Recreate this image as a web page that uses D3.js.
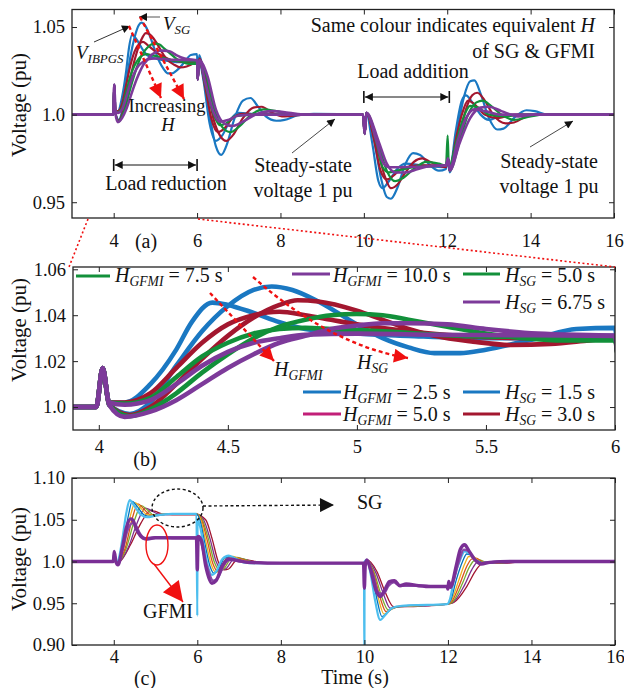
<html>
<head>
  <style>
    body { margin: 0; background: #fff; }
  </style>
</head>
<body>
<script src="https://cdnjs.cloudflare.com/ajax/libs/d3/7.8.5/d3.min.js"></script>
<script>
// ---------- data: voltage (pu) vs time (s) ----------
// panels (a) and (b) share the same 8 traces, (b) is a zoom of (a)
var sgBlue = [[3,1.0],[3.99,1.0],[4.015,1.017],[4.04,1.001],[4.12,0.997],[4.2,1.002],[4.3,1.018],[4.4,1.033],[4.5,1.044],[4.6,1.051],[4.67,1.0525],[4.75,1.051],[4.85,1.046],[5.0,1.036],[5.1,1.030],[5.2,1.026],[5.3,1.0235],[5.4,1.0235],[5.5,1.025],[5.7,1.030],[5.85,1.034],[6.0,1.0345],[6.015,1.02],[6.05,1.034],[6.15,1.025],[6.3,1.0],[6.45,0.982],[6.58,0.977],[6.7,0.982],[6.9,0.998],[7.1,1.008],[7.28,1.0095],[7.45,1.005],[7.65,0.999],[7.9,0.9965],[8.1,0.997],[8.4,0.9995],[8.8,1.0005],[9.98,1.0],[10.02,0.989],[10.06,1.001],[10.25,0.985],[10.4,0.965],[10.55,0.953],[10.65,0.952],[10.8,0.958],[11.0,0.972],[11.18,0.978],[11.35,0.977],[11.55,0.972],[11.8,0.968],[11.97,0.969],[12.02,0.975],[12.06,0.967],[12.2,0.985],[12.4,1.010],[12.55,1.019],[12.65,1.0195],[12.8,1.012],[13.0,0.998],[13.2,0.9915],[13.35,0.992],[13.6,0.998],[13.9,1.0025],[14.1,1.002],[14.4,1.0],[16,1.0]];
var gfBlue = [[3,1.0],[3.99,1.0],[4.015,1.017],[4.04,1.002],[4.1,1.002],[4.2,1.010],[4.3,1.025],[4.36,1.037],[4.44,1.0455],[4.5,1.0445],[4.6,1.041],[4.7,1.037],[4.8,1.034],[4.9,1.033],[5.0,1.032],[5.2,1.031],[5.5,1.030],[5.8,1.030],[6.0,1.031],[6.015,1.02],[6.05,1.031],[6.15,1.02],[6.3,0.995],[6.45,0.985],[6.6,0.988],[6.8,0.997],[7.0,1.001],[7.3,1.0005],[8.0,1.0],[9.98,1.0],[10.02,0.989],[10.06,1.001],[10.2,0.984],[10.35,0.962],[10.45,0.958],[10.6,0.962],[10.8,0.969],[11.0,0.972],[11.4,0.971],[11.97,0.970],[12.02,0.975],[12.06,0.968],[12.2,0.99],[12.35,1.008],[12.45,1.011],[12.6,1.007],[12.8,1.0],[13.0,0.997],[13.3,0.9995],[14,1.0],[16,1.0]];
var sgRed = [[3,1.0],[3.99,1.0],[4.015,1.017],[4.04,1.001],[4.12,0.9965],[4.2,1.0],[4.3,1.010],[4.4,1.021],[4.5,1.031],[4.6,1.039],[4.7,1.0445],[4.77,1.0465],[4.85,1.046],[5.0,1.042],[5.1,1.038],[5.2,1.034],[5.3,1.031],[5.45,1.0285],[5.6,1.027],[5.75,1.0275],[5.9,1.029],[6.0,1.030],[6.015,1.02],[6.05,1.032],[6.2,1.022],[6.4,0.997],[6.55,0.988],[6.7,0.985],[6.85,0.988],[7.1,0.998],[7.35,1.004],[7.55,1.0045],[7.8,1.001],[8.1,0.999],[8.6,1.0],[9.98,1.0],[10.02,0.989],[10.06,1.001],[10.3,0.983],[10.5,0.965],[10.65,0.958],[10.8,0.960],[11.0,0.967],[11.2,0.973],[11.4,0.975],[11.6,0.973],[11.97,0.970],[12.02,0.975],[12.06,0.968],[12.25,0.983],[12.45,1.003],[12.6,1.011],[12.72,1.0125],[12.9,1.008],[13.1,1.0],[13.4,0.995],[13.6,0.9955],[13.9,0.999],[14.2,1.0],[16,1.0]];
var gfRed = [[3,1.0],[3.99,1.0],[4.015,1.017],[4.04,1.002],[4.1,1.002],[4.2,1.006],[4.3,1.017],[4.4,1.028],[4.5,1.036],[4.6,1.040],[4.7,1.0415],[4.8,1.040],[4.9,1.038],[5.0,1.036],[5.2,1.033],[5.4,1.031],[5.7,1.030],[6.0,1.030],[6.015,1.02],[6.05,1.031],[6.2,1.015],[6.35,0.997],[6.5,0.990],[6.65,0.992],[6.85,0.998],[7.1,1.0005],[7.5,1.0],[9.98,1.0],[10.02,0.989],[10.06,1.001],[10.25,0.985],[10.4,0.968],[10.55,0.963],[10.7,0.965],[10.9,0.969],[11.3,0.971],[11.97,0.971],[12.02,0.975],[12.06,0.968],[12.2,0.985],[12.35,1.0],[12.5,1.008],[12.65,1.006],[12.9,1.0],[13.2,0.998],[13.6,1.0],[16,1.0]];
var sgGreen = [[3,1.0],[3.99,1.0],[4.015,1.017],[4.04,1.001],[4.12,0.996],[4.2,0.999],[4.3,1.006],[4.4,1.015],[4.5,1.023],[4.6,1.030],[4.7,1.035],[4.8,1.038],[4.9,1.040],[5.0,1.0405],[5.1,1.040],[5.2,1.038],[5.35,1.035],[5.5,1.032],[5.65,1.030],[5.8,1.029],[6.0,1.029],[6.015,1.02],[6.05,1.031],[6.2,1.024],[6.4,1.004],[6.6,0.993],[6.8,0.990],[7.0,0.993],[7.3,1.0],[7.6,1.003],[7.9,1.002],[8.3,1.0],[9.98,1.0],[10.02,0.989],[10.06,1.001],[10.35,0.983],[10.55,0.968],[10.75,0.962],[10.95,0.964],[11.2,0.969],[11.5,0.973],[11.8,0.972],[11.97,0.971],[12.02,0.975],[12.06,0.968],[12.3,0.985],[12.5,1.0],[12.7,1.007],[12.85,1.008],[13.05,1.005],[13.3,1.0],[13.6,0.997],[14.0,0.999],[14.3,1.0],[16,1.0]];
var gfGreen = [[3,1.0],[3.99,1.0],[4.015,1.017],[4.04,1.002],[4.1,1.0015],[4.2,1.004],[4.3,1.013],[4.4,1.022],[4.5,1.028],[4.6,1.032],[4.7,1.034],[4.8,1.0345],[4.9,1.034],[5.1,1.033],[5.4,1.031],[6.0,1.030],[6.015,1.02],[6.05,1.031],[6.2,1.017],[6.4,1.0],[6.55,0.994],[6.7,0.995],[6.9,0.999],[7.3,1.0],[9.98,1.0],[10.02,0.989],[10.06,1.001],[10.3,0.984],[10.45,0.970],[10.6,0.967],[10.8,0.968],[11.2,0.970],[11.97,0.971],[12.01,0.988],[12.04,0.970],[12.2,0.983],[12.4,0.999],[12.55,1.005],[12.75,1.004],[13.0,1.0],[13.4,0.999],[13.8,1.0],[16,1.0]];
var sgPurple = [[3,1.0],[3.99,1.0],[4.015,1.017],[4.04,1.001],[4.1,0.9957],[4.2,0.998],[4.3,1.003],[4.4,1.010],[4.5,1.017],[4.6,1.023],[4.7,1.028],[4.8,1.031],[4.9,1.034],[5.0,1.0355],[5.1,1.0365],[5.2,1.0365],[5.35,1.036],[5.5,1.034],[5.7,1.032],[6.0,1.031],[6.015,1.02],[6.05,1.031],[6.25,1.022],[6.45,1.003],[6.65,0.995],[6.85,0.9935],[7.1,0.996],[7.4,1.0],[7.8,1.002],[8.2,1.001],[8.6,1.0],[9.98,1.0],[10.02,0.989],[10.06,1.001],[10.35,0.985],[10.55,0.972],[10.75,0.967],[11.0,0.967],[11.3,0.969],[11.7,0.971],[11.97,0.971],[12.02,0.975],[12.06,0.968],[12.3,0.984],[12.55,0.998],[12.8,1.004],[13.0,1.0045],[13.3,1.002],[13.7,0.999],[14.1,1.0],[16,1.0]];
var gfPurple = [[3,1.0],[3.99,1.0],[4.015,1.017],[4.04,1.002],[4.1,1.001],[4.2,1.003],[4.3,1.010],[4.4,1.018],[4.5,1.024],[4.6,1.028],[4.7,1.030],[4.8,1.0315],[5.0,1.032],[5.3,1.0315],[6.0,1.031],[6.015,1.02],[6.05,1.031],[6.2,1.018],[6.4,1.001],[6.55,0.996],[6.75,0.997],[7.0,0.9995],[7.5,1.0],[9.98,1.0],[10.02,0.989],[10.06,1.001],[10.3,0.985],[10.45,0.973],[10.6,0.970],[10.8,0.970],[11.97,0.971],[12.02,0.975],[12.06,0.969],[12.25,0.985],[12.45,0.998],[12.65,1.003],[12.9,1.002],[13.3,1.0],[16,1.0]];

// panel (c): SG family for a sweep of H, earliest (light blue) to latest (dark red)
var sgC1 = [[3,1.0],[3.99,1.0],[4.02,1.008],[4.07,0.998],[4.1,1.0],[4.2,1.025],[4.3,1.058],[4.38,1.0735],[4.5,1.066],[4.65,1.056],[4.8,1.053],[5.0,1.055],[5.4,1.057],[5.98,1.057],[6.0,0.935],[6.005,1.05],[6.05,1.045],[6.15,1.02],[6.25,0.995],[6.35,0.984],[6.45,0.988],[6.6,1.003],[6.75,1.007],[6.9,1.004],[7.1,0.999],[7.4,0.998],[9.99,0.998],[10.0,0.88],[10.005,1.0],[10.06,1.002],[10.15,0.985],[10.25,0.955],[10.38,0.930],[10.5,0.936],[10.65,0.944],[10.9,0.947],[11.5,0.948],[11.98,0.949],[12.05,0.955],[12.15,0.98],[12.3,1.003],[12.4,1.012],[12.5,1.01],[12.65,1.002],[12.8,0.998],[13.0,0.999],[13.5,1.0],[16,1.0]];
var sgC2 = [[3,1.0],[3.99,1.0],[4.02,1.008],[4.07,0.998],[4.1,1.0],[4.22,1.02],[4.35,1.055],[4.44,1.072],[4.56,1.066],[4.72,1.056],[4.88,1.054],[5.1,1.056],[5.5,1.057],[5.98,1.057],[6.06,1.05],[6.18,1.022],[6.3,0.995],[6.4,0.986],[6.5,0.99],[6.65,1.004],[6.8,1.006],[6.95,1.003],[7.2,0.999],[7.5,0.998],[10.0,0.998],[10.06,1.002],[10.18,0.985],[10.3,0.955],[10.42,0.934],[10.55,0.939],[10.7,0.945],[11.0,0.947],[11.98,0.949],[12.07,0.954],[12.2,0.978],[12.35,1.0],[12.45,1.009],[12.55,1.008],[12.7,1.001],[12.9,0.998],[13.5,1.0],[16,1.0]];
var sgC3 = [[3,1.0],[3.99,1.0],[4.02,1.008],[4.07,0.998],[4.11,1.0],[4.25,1.018],[4.4,1.055],[4.51,1.0705],[4.63,1.065],[4.8,1.056],[4.95,1.055],[5.2,1.057],[5.98,1.057],[6.08,1.05],[6.2,1.025],[6.33,0.997],[6.45,0.987],[6.55,0.991],[6.7,1.004],[6.85,1.006],[7.0,1.003],[7.3,0.999],[7.6,0.998],[10.0,0.998],[10.06,1.002],[10.2,0.985],[10.33,0.957],[10.47,0.937],[10.6,0.941],[10.75,0.946],[11.1,0.947],[11.98,0.949],[12.08,0.953],[12.25,0.976],[12.4,0.997],[12.5,1.006],[12.6,1.006],[12.75,1.0],[13.0,0.998],[13.5,1.0],[16,1.0]];
var sgC4 = [[3,1.0],[3.99,1.0],[4.02,1.008],[4.07,0.998],[4.12,1.0],[4.28,1.017],[4.45,1.053],[4.58,1.069],[4.7,1.064],[4.87,1.056],[5.0,1.055],[5.3,1.057],[5.98,1.057],[6.1,1.05],[6.23,1.027],[6.37,0.998],[6.5,0.988],[6.6,0.991],[6.75,1.003],[6.9,1.005],[7.05,1.003],[7.35,0.999],[7.7,0.998],[10.0,0.998],[10.06,1.002],[10.22,0.986],[10.37,0.958],[10.52,0.94],[10.65,0.943],[10.8,0.946],[11.2,0.947],[11.98,0.949],[12.09,0.952],[12.3,0.975],[12.45,0.994],[12.57,1.003],[12.67,1.004],[12.85,0.999],[13.1,0.998],[13.6,1.0],[16,1.0]];
var sgC5 = [[3,1.0],[3.99,1.0],[4.02,1.008],[4.07,0.998],[4.13,1.0],[4.3,1.016],[4.5,1.05],[4.66,1.067],[4.8,1.062],[4.95,1.056],[5.1,1.056],[5.4,1.057],[5.98,1.057],[6.12,1.05],[6.26,1.028],[6.41,0.999],[6.55,0.989],[6.65,0.992],[6.8,1.003],[6.95,1.005],[7.1,1.003],[7.4,0.999],[7.8,0.998],[10.0,0.998],[10.06,1.002],[10.24,0.986],[10.4,0.96],[10.57,0.942],[10.7,0.944],[10.85,0.946],[11.3,0.947],[11.98,0.949],[12.1,0.951],[12.35,0.974],[12.5,0.992],[12.63,1.001],[12.75,1.002],[12.9,0.999],[13.2,0.998],[13.6,1.0],[16,1.0]];
var sgC6 = [[3,1.0],[3.99,1.0],[4.02,1.008],[4.07,0.998],[4.14,1.0],[4.35,1.017],[4.55,1.045],[4.76,1.064],[4.9,1.061],[5.05,1.057],[5.2,1.056],[5.5,1.057],[5.98,1.057],[6.15,1.05],[6.3,1.028],[6.45,1.0],[6.6,0.99],[6.7,0.992],[6.85,1.002],[7.0,1.004],[7.15,1.002],[7.5,0.999],[7.9,0.998],[10.0,0.998],[10.06,1.002],[10.27,0.987],[10.45,0.962],[10.62,0.944],[10.75,0.945],[10.9,0.946],[11.4,0.947],[11.98,0.949],[12.12,0.951],[12.4,0.972],[12.57,0.99],[12.7,0.999],[12.82,1.0],[13.0,0.999],[13.3,0.998],[13.7,1.0],[16,1.0]];
var sgC7 = [[3,1.0],[3.99,1.0],[4.02,1.008],[4.07,0.998],[4.15,1.0],[4.4,1.02],[4.65,1.046],[4.88,1.061],[5.0,1.06],[5.15,1.057],[5.4,1.056],[5.98,1.056],[6.2,1.05],[6.35,1.028],[6.5,1.0],[6.65,0.99],[6.75,0.991],[6.9,1.0],[7.05,1.003],[7.2,1.002],[7.5,0.999],[8.0,0.998],[10.0,0.998],[10.06,1.002],[10.3,0.988],[10.5,0.963],[10.7,0.946],[10.85,0.946],[11.5,0.947],[11.98,0.949],[12.14,0.951],[12.45,0.97],[12.65,0.988],[12.8,0.997],[12.95,0.999],[13.4,0.998],[13.8,1.0],[16,1.0]];
// panel (c): GFMI traces
var gfC1 = [[3,1.0],[3.99,1.0],[4.01,1.012],[4.05,1.0],[4.1,0.996],[4.2,1.015],[4.3,1.04],[4.4,1.051],[4.45,1.05],[4.55,1.038],[4.7,1.028],[4.8,1.027],[5.0,1.0285],[5.5,1.028],[5.98,1.028],[6.0,0.99],[6.02,1.03],[6.1,1.025],[6.2,0.995],[6.35,0.974],[6.45,0.977],[6.6,0.995],[6.75,1.003],[6.9,1.002],[7.2,0.999],[8,0.998],[9.98,0.998],[10.0,0.968],[10.02,0.995],[10.06,1.002],[10.15,0.99],[10.28,0.965],[10.38,0.958],[10.48,0.965],[10.6,0.976],[10.72,0.977],[10.85,0.971],[11.0,0.973],[11.3,0.971],[11.6,0.970],[11.98,0.970],[12.0,0.967],[12.02,0.976],[12.06,0.969],[12.2,0.995],[12.3,1.015],[12.4,1.020],[12.5,1.013],[12.65,1.002],[12.8,0.997],[13.0,0.999],[13.5,1.0],[16,1.0]];
var gfC2 = [[3,1.0],[3.99,1.0],[4.01,1.01],[4.05,1.0],[4.1,0.997],[4.2,1.012],[4.32,1.036],[4.45,1.046],[4.52,1.044],[4.62,1.034],[4.75,1.028],[5.0,1.029],[5.98,1.029],[6.05,1.028],[6.2,1.0],[6.38,0.977],[6.5,0.981],[6.65,0.997],[6.8,1.002],[7.0,1.0],[8,0.998],[9.98,0.998],[10.06,1.0],[10.2,0.985],[10.33,0.963],[10.45,0.961],[10.58,0.971],[10.7,0.975],[10.85,0.971],[11.2,0.971],[11.98,0.970],[12.08,0.971],[12.25,0.998],[12.38,1.014],[12.48,1.013],[12.62,1.003],[12.8,0.998],[13.2,1.0],[16,1.0]];

// tick values
var xTicksA = [4, 6, 8, 10, 12, 14, 16];
var yTicksA = [0.95, 1.0, 1.05];
var xTicksB = [4, 4.5, 5, 5.5, 6];
var yTicksB = [1.0, 1.02, 1.04, 1.06];
var xTicksC = [4, 6, 8, 10, 12, 14, 16];
var yTicksC = [0.90, 0.95, 1.0, 1.05, 1.10];
var yLabelsC = ["0.90", "0.95", "1.0", "1.05", "1.10"];

// ---------- drawing ----------
var width = 624, height = 688;
var face = 'Liberation Serif';
var svg = d3.select('body').append('svg').attr('width', width).attr('height', height)
  .attr('font-family', face);

var defs = svg.append('defs');
function marker(id, color, w, h) {
  defs.append('marker').attr('id', id).attr('viewBox', '0 0 10 10')
    .attr('refX', 10).attr('refY', 5).attr('markerWidth', w).attr('markerHeight', h)
    .attr('markerUnits', 'userSpaceOnUse').attr('orient', 'auto-start-reverse')
    .append('path').attr('d', 'M0,0 L10,5 L0,10 z').attr('fill', color);
}
marker('blk', '#111', 10, 8);
marker('blkBig', '#111', 18, 14);
marker('red', '#f01010', 16, 14);
marker('redBig', '#f01010', 22, 20);

var cBlue = '#1a78c2', cRed = '#a3172f', cGreen = '#12903a', cPurple = '#7d3a9a', cMag = '#c21f78';

// panel frames
function panel(id, xd, xr, yd, yr, xt, yt, yfmt, padX) {
  var x = d3.scaleLinear().domain(xd).range(xr);
  var y = d3.scaleLinear().domain(yd).range(yr);
  var g = svg.append('g');
  defs.append('clipPath').attr('id', id).append('rect')
    .attr('x', xr[0]).attr('y', yr[1]).attr('width', xr[1] - xr[0]).attr('height', yr[0] - yr[1]);
  var plot = g.append('g').attr('clip-path', 'url(#' + id + ')');
  var ax = g.append('g');
  function style(sel) {
    sel.attr('font-family', face).attr('font-size', 18.5);
    sel.select('.domain').remove();
    sel.selectAll('line').attr('stroke', '#222');
    sel.selectAll('text').attr('fill', '#111');
  }
  ax.append('g').attr('transform', 'translate(0,' + yr[0] + ')')
    .call(d3.axisBottom(x).tickValues(xt).tickSize(-5).tickPadding(padX).tickFormat(d3.format('')))
    .call(style);
  ax.append('g').attr('transform', 'translate(0,' + yr[1] + ')')
    .call(d3.axisTop(x).tickValues(xt).tickSize(-5).tickFormat('')).call(style);
  ax.append('g').attr('transform', 'translate(' + xr[0] + ',0)')
    .call(d3.axisLeft(y).tickValues(yt).tickSize(-5).tickPadding(7).tickFormat(yfmt)).call(style);
  ax.append('g').attr('transform', 'translate(' + xr[1] + ',0)')
    .call(d3.axisRight(y).tickValues(yt).tickSize(-5).tickFormat('')).call(style);
  ax.append('rect').attr('x', xr[0]).attr('y', yr[1]).attr('width', xr[1] - xr[0])
    .attr('height', yr[0] - yr[1]).attr('fill', 'none').attr('stroke', '#222').attr('stroke-width', 1.3);
  var line = d3.line().x(function(d){ return x(d[0]); }).y(function(d){ return y(d[1]); })
    .curve(d3.curveMonotoneX);
  return { x: x, y: y, g: g, plot: plot, line: line };
}

function fmtA(d) { return d === 1 ? '1.0' : d3.format('.2f')(d); }

var A = panel('clipA', [3, 16], [72, 614], [0.941, 1.06], [218, 9.5], xTicksA, yTicksA, fmtA, 16);
var B = panel('clipB', [3.9, 6], [73, 615], [0.990, 1.061], [430, 267], xTicksB, yTicksB, fmtA, 10);
var C = panel('clipC', [3, 16], [72, 615], [0.9, 1.1], [645, 478], xTicksC, yTicksC,
  function(d, i){ return yLabelsC[i]; }, 5);

var traces = [
  [sgBlue, cBlue], [gfBlue, cBlue], [sgRed, cRed], [gfRed, cRed],
  [sgGreen, cGreen], [gfGreen, cGreen], [sgPurple, cPurple], [gfPurple, cPurple]
];
traces.forEach(function(t){
  A.plot.append('path').attr('d', A.line(t[0])).attr('fill', 'none')
    .attr('stroke', t[1]).attr('stroke-width', t[1] === cPurple ? 2.6 : 2.2);
});
traces.forEach(function(t){
  B.plot.append('path').attr('d', B.line(t[0])).attr('fill', 'none')
    .attr('stroke', t[1]).attr('stroke-width', 4.6).attr('stroke-linejoin', 'round');
});

var famC = [[sgC7, '#a2142f'], [sgC6, '#7e2f8e'], [sgC5, '#77ac30'], [sgC4, '#d95319'],
            [sgC3, '#edb120'], [sgC2, '#0072bd'], [sgC1, '#4dbeee']];
famC.forEach(function(t, i){
  C.plot.append('path').attr('d', C.line(t[0])).attr('fill', 'none')
    .attr('stroke', t[1]).attr('stroke-width', i === famC.length - 1 ? 2.2 : 1.3);
});
C.plot.append('path').attr('d', C.line(gfC2)).attr('fill', 'none').attr('stroke', '#8a4aa8').attr('stroke-width', 2.4);
C.plot.append('path').attr('d', C.line(gfC1)).attr('fill', 'none').attr('stroke', '#7a2f95').attr('stroke-width', 3.4);

// ---------- labels ----------
function ylab(cy) {
  svg.append('text').attr('transform', 'translate(26,' + cy + ') rotate(-90)')
    .attr('text-anchor', 'middle').attr('font-size', 21).text('Voltage (pu)');
}
ylab(105); ylab(330); ylab(559);
function txt(x, y, s, size, anchor) {
  return svg.append('text').attr('x', x).attr('y', y).attr('text-anchor', anchor || 'start')
    .attr('font-size', size || 20).text(s);
}
txt(146, 248, '(a)', 20, 'middle');
txt(145, 466, '(b)', 20, 'middle');
txt(145, 685, '(c)', 20, 'middle');
txt(355, 684, 'Time (s)', 20, 'middle');

// subscripted italic label: H_sub or V_sub
function subLabel(x, y, main, sub, rest, size, anchor) {
  var t = svg.append('text').attr('x', x).attr('y', y).attr('text-anchor', anchor || 'start')
    .attr('font-size', size);
  t.append('tspan').attr('font-style', 'italic').text(main);
  t.append('tspan').attr('font-style', 'italic').attr('font-size', size * 0.68)
    .attr('dy', size * 0.22).text(sub);
  if (rest) t.append('tspan').attr('dy', -size * 0.22).text(rest);
  return t;
}

// zoom connector lines
svg.append('line').attr('x1', 88).attr('y1', 219).attr('x2', 69).attr('y2', 267)
  .attr('stroke', '#f01010').attr('stroke-width', 1.6).attr('stroke-dasharray', '2,2.5');
svg.append('line').attr('x1', 198).attr('y1', 219).attr('x2', 615).attr('y2', 267)
  .attr('stroke', '#f01010').attr('stroke-width', 1.6).attr('stroke-dasharray', '2,2.5');

// --- panel (a) annotations
var t1 = txt(595, 32, '', 20, 'end');
t1.append('tspan').text('Same colour indicates equivalent ');
t1.append('tspan').attr('font-style', 'italic').text('H');
txt(595, 58, 'of SG & GFMI', 20, 'end');

subLabel(163, 30, 'V', 'SG', null, 19);
svg.append('line').attr('x1', 160).attr('y1', 17).attr('x2', 139).attr('y2', 17)
  .attr('stroke', '#555').attr('stroke-width', 1).attr('marker-end', 'url(#blk)');
subLabel(76, 59, 'V', 'IBPGS', null, 19);
svg.append('line').attr('x1', 94).attr('y1', 42).attr('x2', 130).attr('y2', 26)
  .attr('stroke', '#333').attr('stroke-width', 1).attr('marker-end', 'url(#blk)');

svg.append('line').attr('x1', 129).attr('y1', 26).attr('x2', 161).attr('y2', 98)
  .attr('stroke', '#f01010').attr('stroke-width', 2.4).attr('stroke-dasharray', '4,3').attr('marker-end', 'url(#red)');
svg.append('line').attr('x1', 140).attr('y1', 17).attr('x2', 184).attr('y2', 99)
  .attr('stroke', '#f01010').attr('stroke-width', 2.4).attr('stroke-dasharray', '4,3').attr('marker-end', 'url(#red)');
txt(167, 112, 'Increasing', 18.5, 'middle');
txt(168, 131, 'H', 18.5, 'middle').attr('font-style', 'italic');

function span(x1, x2, y) {
  svg.append('line').attr('x1', x1 + 1).attr('x2', x2 - 1).attr('y1', y).attr('y2', y)
    .attr('stroke', '#111').attr('stroke-width', 1)
    .attr('marker-start', 'url(#blk)').attr('marker-end', 'url(#blk)');
  [x1, x2].forEach(function(xx){
    svg.append('line').attr('x1', xx).attr('x2', xx).attr('y1', y - 6).attr('y2', y + 6)
      .attr('stroke', '#111').attr('stroke-width', 1.6);
  });
}
span(A.x(4), A.x(6), 165);
txt(166, 190, 'Load reduction', 20, 'middle');
span(A.x(10), A.x(12.05), 97);
txt(413, 78, 'Load addition', 20, 'middle');

txt(303, 172, 'Steady-state', 20, 'middle');
txt(303, 197, 'voltage 1 pu', 20, 'middle');
svg.append('line').attr('x1', 292).attr('y1', 153).attr('x2', 335).attr('y2', 119)
  .attr('stroke', '#333').attr('stroke-width', 0.9).attr('marker-end', 'url(#blk)');
txt(549, 168, 'Steady-state', 20, 'middle');
txt(549, 193, 'voltage 1 pu', 20, 'middle');
svg.append('line').attr('x1', 530).attr('y1', 147).attr('x2', 573).attr('y2', 121)
  .attr('stroke', '#333').attr('stroke-width', 0.9).attr('marker-end', 'url(#blk)');

// --- panel (b) legend
var legendB = [
  [76, 110, 276, 115, 282, cGreen, 'GFMI', ' = 7.5 s'],
  [292, 330, 274, 333, 282, cPurple, 'GFMI', ' = 10.0 s'],
  [463, 500, 274, 505, 282, cGreen, 'SG', ' = 5.0 s'],
  [463, 500, 302, 505, 309, cPurple, 'SG', ' = 6.75 s'],
  [303, 341, 392, 343, 399, cBlue, 'GFMI', ' = 2.5 s'],
  [303, 341, 414, 343, 421, cMag, 'GFMI', ' = 5.0 s'],
  [463, 500, 392, 505, 399, cBlue, 'SG', ' = 1.5 s'],
  [463, 500, 414, 505, 421, cRed, 'SG', ' = 3.0 s']
];
legendB.forEach(function(l){
  svg.append('line').attr('x1', l[0]).attr('x2', l[1]).attr('y1', l[2]).attr('y2', l[2])
    .attr('stroke', l[5]).attr('stroke-width', 3);
  subLabel(l[3], l[4], 'H', l[6], l[7], 20);
});
svg.append('line').attr('x1', 210).attr('y1', 293).attr('x2', 274).attr('y2', 361)
  .attr('stroke', '#f01010').attr('stroke-width', 2.4).attr('stroke-dasharray', '4,3').attr('marker-end', 'url(#red)');
subLabel(274, 376, 'H', 'GFMI', null, 20);
svg.append('path').attr('d', 'M253,277 Q330,345 408,358').attr('fill', 'none')
  .attr('stroke', '#f01010').attr('stroke-width', 2.4).attr('stroke-dasharray', '4,3').attr('marker-end', 'url(#red)');
subLabel(357, 369, 'H', 'SG', null, 20);

// --- panel (c) annotations
svg.append('ellipse').attr('cx', 177.5).attr('cy', 508).attr('rx', 25.5).attr('ry', 19)
  .attr('fill', 'none').attr('stroke', '#111').attr('stroke-width', 1.4).attr('stroke-dasharray', '3,2.5');
svg.append('line').attr('x1', 203).attr('y1', 506).attr('x2', 334).attr('y2', 505)
  .attr('stroke', '#111').attr('stroke-width', 1.4).attr('stroke-dasharray', '3,2.5').attr('marker-end', 'url(#blkBig)');
txt(357, 509, 'SG', 20);
svg.append('ellipse').attr('cx', 157).attr('cy', 545).attr('rx', 11).attr('ry', 20)
  .attr('fill', 'none').attr('stroke', '#f01010').attr('stroke-width', 1.4);
svg.append('line').attr('x1', 154).attr('y1', 564).attr('x2', 183).attr('y2', 602)
  .attr('stroke', '#f01010').attr('stroke-width', 1.4).attr('marker-end', 'url(#redBig)');
txt(168, 618, 'GFMI', 20, 'middle');

// every text in the serif face
svg.selectAll('text').attr('font-family', face).attr('fill', '#111');
</script>
</body>
</html>
